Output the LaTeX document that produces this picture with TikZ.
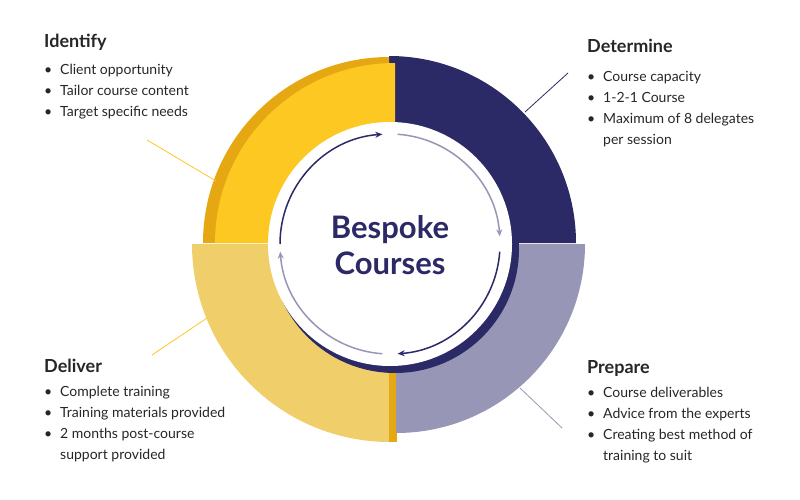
\documentclass[tikz,border=0pt]{standalone}
\usepackage{fontspec}
\setmainfont{Lato}
\usetikzlibrary{arrows.meta}
\definecolor{navy}{HTML}{2B2966}
\definecolor{lav}{HTML}{9796B6}
\definecolor{yel}{HTML}{FCC821}
\definecolor{dyel}{HTML}{E5A812}
\definecolor{lyel}{HTML}{F0CF6A}
\tikzset{
 ttl/.style={anchor=north west,inner sep=0pt,font=\fontsize{18}{20}\selectfont\bfseries,text=black!85},
 items/.style={anchor=north west,inner sep=0pt,align=left,font=\fontsize{14}{21}\selectfont,text=black!85},
 cyc/.style={line width=1.5pt,-{Stealth[length=7pt,width=6pt]}},
}
\newcommand{\bul}{\makebox[16pt][l]{\textbullet}}
\begin{document}
\begin{tikzpicture}[x=1pt,y=-1pt]
\useasboundingbox (0,0) rectangle (800,500);
% ring
\fill[navy] (389,243) -- (389,56) arc[start angle=-90,end angle=0,radius=187] -- cycle;
\fill[dyel] (389,243) -- (203,243) arc[start angle=180,end angle=270,radius=186] -- cycle;
\fill[yel] (395,243) -- (215,243) arc[start angle=180,end angle=270,radius=180] -- cycle;
\fill[lyel] (390,244) -- (390,442) arc[start angle=90,end angle=180,radius=198] -- cycle;
\fill[dyel] (389,244) rectangle (397,442);
\fill[lav] (396,244) -- (585,244) arc[start angle=0,end angle=90,radius=189] -- cycle;
\fill[navy] (395,249) circle[radius=124];
\fill[white] (390,244) circle[radius=122];
% cycle arrows
\coordinate (c) at (390,244);
\draw[cyc,navy] ([shift={(180:110)}]c) arc[start angle=180,end angle=266,radius=110];
\draw[cyc,lav] ([shift={(274:110)}]c) arc[start angle=274,end angle=356,radius=110];
\draw[cyc,navy] ([shift={(4:110)}]c) arc[start angle=4,end angle=86,radius=110];
\draw[cyc,lav] ([shift={(94:110)}]c) arc[start angle=94,end angle=176,radius=110];
\node[font=\fontsize{31}{36}\selectfont\bfseries,text=navy,align=center] (t) at (390,245) {Bespoke\\Courses};
% leaders
\coordinate (d1) at (525,112); \coordinate (d2) at (568,73);
\draw[navy,line width=0.8pt] (d1) -- (d2);
\coordinate (i1) at (216,181); \coordinate (i2) at (147,140);
\draw[yel,line width=0.8pt] (i1) -- (i2);
\coordinate (v1) at (207,318); \coordinate (v2) at (152,355);
\draw[yel,line width=0.8pt] (v1) -- (v2);
\coordinate (p1) at (520,388); \coordinate (p2) at (562,428);
\draw[lav,line width=0.8pt] (p1) -- (p2);
% texts
\node[ttl] (it) at (44,34) {Identify};
\node[items] (ii) at (44,64) {\bul Client opportunity\\\bul Tailor course content\\\bul Target specific needs};
\node[ttl] (dt) at (587,39) {Determine};
\node[items] (di) at (587,71) {\bul Course capacity\\\bul 1-2-1 Course\\\bul Maximum of 8 delegates\\\hspace*{16pt}per session};
\node[ttl] (vt) at (44,359) {Deliver};
\node[items] (vi) at (44,386) {\bul Complete training\\\bul Training materials provided\\\bul 2 months post-course\\\hspace*{16pt}support provided};
\node[ttl] (pt) at (587,360) {Prepare};
\node[items] (pi) at (587,387) {\bul Course deliverables\\\bul Advice from the experts\\\bul Creating best method of\\\hspace*{16pt}training to suit};
\end{tikzpicture}
\end{document}
